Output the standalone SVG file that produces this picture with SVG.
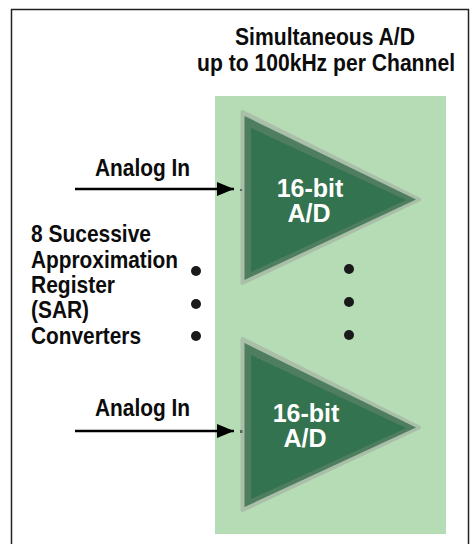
<svg xmlns="http://www.w3.org/2000/svg" width="472" height="544" viewBox="0 0 472 544">
<style>
text{font-family:"Liberation Sans",Arial,sans-serif;font-weight:700;fill:#0c0c0c;font-size:24px}
.w{fill:#fff;font-size:25px;text-anchor:middle}
.h{text-anchor:middle}
.o{fill:#a9bfa8;stroke:#a9bfa8;stroke-width:4;stroke-linejoin:round}
.m{fill:#4f7d60}
.i{fill:#33734f}
.d{fill:#1a1a1a}
.c{stroke:#000;stroke-width:2.5;fill:none}
.t{fill:#5a6a5a}
</style>
<defs><marker id="a" markerUnits="userSpaceOnUse" markerWidth="18" markerHeight="14" refX="17" refY="7" orient="auto"><path d="M0 0L17 7L0 14Z" fill="#000"/></marker></defs>
<rect x="0" y="0" width="472" height="544" fill="#fff"/>
<path id="frame" d="M11.5 544V9.500H468.500V544" fill="none" stroke="#222" stroke-width="1.500"/>
<rect id="panel" x="215" y="96" width="231" height="438" fill="#b6dcb5"/>
<g id="title"><text class="h" x="325" y="45" textLength="180" lengthAdjust="spacingAndGlyphs">Simultaneous A/D</text><text class="h" x="326" y="71" textLength="258" lengthAdjust="spacingAndGlyphs">up to 100kHz per Channel</text></g>
<g id="adc1"><path class="o" d="M242.500 112L419 199.500L242.500 283Z"/><path class="m" d="M244.500 116L416 199.500L244.500 280Z"/><path class="i" d="M251 128L406 200L251 272Z"/><rect class="t" x="240" y="189" width="2" height="2"/><text class="w" x="310" y="197">16-bit</text><text class="w" x="309" y="222">A/D</text></g>
<g id="adc2"><path class="o" d="M242.500 339L419 427.500L242.500 510Z"/><path class="m" d="M244.500 343L416 427.500L244.500 507Z"/><path class="i" d="M251 355L406 428L251 499Z"/><rect class="t" x="240" y="430" width="2.500" height="3"/><text class="w" x="306" y="422">16-bit</text><text class="w" x="305" y="447">A/D</text></g>
<g id="connectors"><path class="c" d="M75 189H234" marker-end="url(#a)"/><path class="c" d="M75 431H234" marker-end="url(#a)"/></g>
<g id="labels"><text x="95" y="176" textLength="95" lengthAdjust="spacingAndGlyphs">Analog In</text><text x="95" y="416" textLength="95" lengthAdjust="spacingAndGlyphs">Analog In</text></g>
<g id="sar"><text x="31" y="242" textLength="120" lengthAdjust="spacingAndGlyphs">8 Sucessive</text><text x="31" y="268" textLength="147" lengthAdjust="spacingAndGlyphs">Approximation</text><text x="31" y="293" textLength="84" lengthAdjust="spacingAndGlyphs">Register</text><text x="31" y="318" textLength="58" lengthAdjust="spacingAndGlyphs">(SAR)</text><text x="31" y="344" textLength="110" lengthAdjust="spacingAndGlyphs">Converters</text></g>
<g id="dots"><circle class="d" cx="196" cy="271" r="5"/><circle class="d" cx="196" cy="304" r="5"/><circle class="d" cx="196" cy="336" r="5"/><circle class="d" cx="349" cy="269" r="5"/><circle class="d" cx="349" cy="302" r="5"/><circle class="d" cx="349" cy="335" r="5"/></g>
</svg>
